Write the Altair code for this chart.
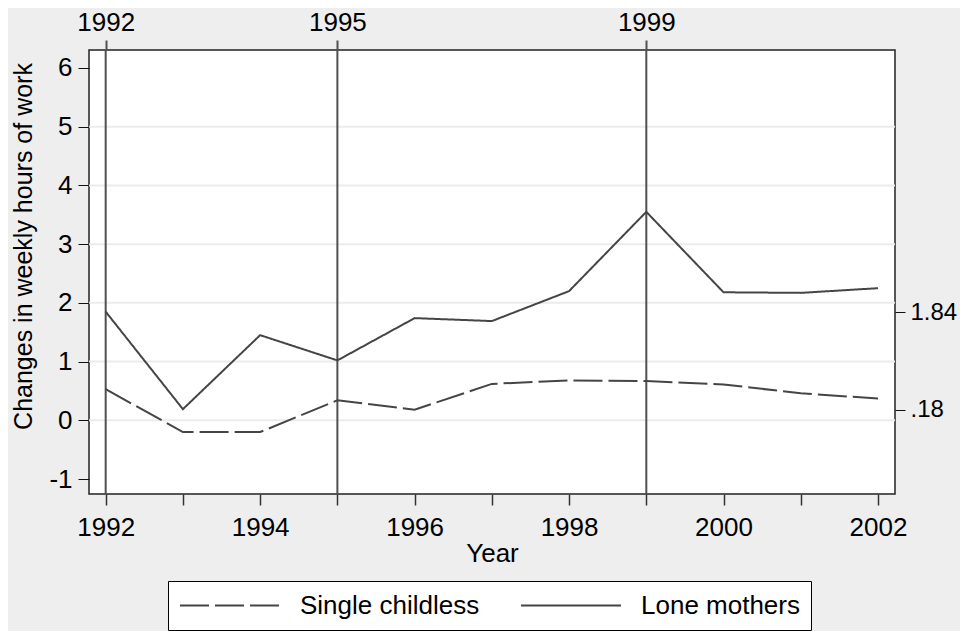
import altair as alt
import pandas as pd

years = [1992, 1993, 1994, 1995, 1996, 1997, 1998, 1999, 2000, 2001, 2002]
single_childless = [0.53, -0.20, -0.20, 0.34, 0.18, 0.62, 0.68, 0.67, 0.61, 0.46, 0.37]
lone_mothers = [1.85, 0.19, 1.45, 1.02, 1.74, 1.69, 2.20, 3.55, 2.18, 2.17, 2.25]
series_names = ["Single childless", "Lone mothers"]
event_years = [1992, 1995, 1999]
grid_values = [0, 1, 2, 3, 4, 5]
left_ticks = [-1, 0, 1, 2, 3, 4, 5, 6]
right_ticks = [0.18, 1.84]

FONT = "Liberation Sans"
FS = 26
TFS = 25
RFS = 24
XDOM = [1991.784, 2002.22]
YDOM = [-1.255, 6.306]

rows = []
for i, y in enumerate(years):
    rows.append({"Year": y, "series": series_names[0], "value": single_childless[i]})
    rows.append({"Year": y, "series": series_names[1], "value": lone_mothers[i]})
df = pd.DataFrame(rows)

grid = alt.Chart(pd.DataFrame({"g": grid_values})).mark_rule(
    color="#ebebeb", strokeWidth=2
).encode(
    y=alt.Y("g:Q", scale=alt.Scale(domain=YDOM, nice=False, zero=False),
            axis=alt.Axis(orient="left", values=left_ticks, tickSize=11, tickColor="#111",
                          tickWidth=1, labelFontSize=FS, labelFont=FONT, labelColor="black",
                          labelPadding=6, domain=False, grid=False,
                          labelExpr="'' + datum.value",
                          title="Changes in weekly hours of work", titleFontSize=TFS,
                          titleFont=FONT, titleFontWeight="normal", titleColor="black",
                          titleX=-58, titleY=196, titleAngle=270,
                          titleBaseline="alphabetic", titleAlign="center"))
)

vdf = pd.DataFrame({"yr": event_years, "lo": [YDOM[0]] * len(event_years),
                    "hi": [YDOM[1]] * len(event_years)})
vrules = alt.Chart(vdf).mark_rule(
    color="#505050", strokeWidth=2
).encode(
    x=alt.X("yr:Q", scale=alt.Scale(domain=XDOM, nice=False, zero=False),
            axis=alt.Axis(orient="top", values=event_years, tickSize=10, tickWidth=2,
                          tickColor="#505050", labelFontSize=FS, labelFont=FONT,
                          labelColor="black", labelBaseline="alphabetic", labelPadding=10,
                          labelExpr="'' + datum.value", labelFlush=False, domain=False,
                          grid=False, title=None)),
    y=alt.Y("lo:Q", scale=alt.Scale(domain=YDOM, nice=False, zero=False), axis=None),
    y2="hi:Q",
)

lines = alt.Chart(df).mark_line(color="#454545", strokeWidth=2).encode(
    x=alt.X("Year:Q", scale=alt.Scale(domain=XDOM, nice=False, zero=False),
            axis=alt.Axis(orient="bottom", values=years, tickSize=11, tickColor="#333",
                          tickWidth=1.5, labelFontSize=FS, labelFont=FONT, labelColor="black",
                          labelBaseline="alphabetic", labelPadding=30, labelFlush=False,
                          labelOverlap=False,
                          labelExpr="datum.value % 2 == 0 ? '' + datum.value : ''",
                          domain=False, grid=False, title="Year", titleFontSize=FS,
                          titleFont=FONT, titleFontWeight="normal", titleColor="black",
                          titleY=67, titleBaseline="alphabetic")),
    y=alt.Y("value:Q", scale=alt.Scale(domain=YDOM, nice=False, zero=False),
            axis=alt.Axis(orient="right", values=right_ticks, tickSize=10, tickColor="#111",
                          tickWidth=1, labelFontSize=RFS, labelFont=FONT, labelColor="black",
                          labelPadding=5, domain=False, grid=False, title=None,
                          labelExpr="datum.value < 1 ? '.18' : '1.84'")),
    strokeDash=alt.StrokeDash(
        "series:N",
        scale=alt.Scale(domain=series_names, range=[[29, 6], [1, 0]]),
        sort=series_names,
        legend=alt.Legend(orient="none", legendX=79, legendY=531, direction="horizontal",
                          columns=2, title=None, fillColor="white", strokeColor="black",
                          padding=11, labelFontSize=FS, labelFont=FONT, labelColor="black",
                          labelLimit=400,
                          symbolType="stroke", symbolSize=10000, symbolStrokeWidth=2,
                          symbolStrokeColor="#454545", labelOffset=19, columnPadding=40,
                          clipHeight=27)),
    detail="series:N",
)

chart = alt.layer(grid, vrules, lines).resolve_scale(
    x="independent", y="independent"
).properties(
    width=806, height=444,
    autosize=alt.AutoSizeParams(type="none"),
    padding={"left": 81, "top": 42, "right": 65, "bottom": 137},
    background="#eeeeee",
).configure_view(stroke="#222222", strokeWidth=1.5, fill="white")

chart.save("out.html", embed_options={"renderer": "svg", "actions": False})
